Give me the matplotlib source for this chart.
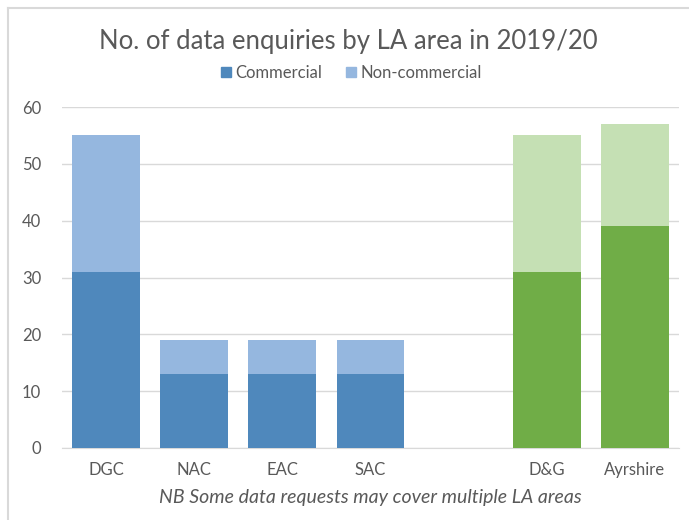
import numpy as np
import matplotlib
matplotlib.use('Agg')
import matplotlib.pyplot as plt
from matplotlib.patches import Patch
from matplotlib.lines import Line2D

categories = ["DGC", "NAC", "EAC", "SAC", "", "D&G", "Ayrshire"]
commercial = [31, 13, 13, 13, 0, 31, 39]
non_commercial = [24, 6, 6, 6, 0, 24, 18]
is_green = [False, False, False, False, False, True, True]

BLUE_DARK = "#4F88BC"
BLUE_LIGHT = "#95B7DF"
GREEN_DARK = "#70AD47"
GREEN_LIGHT = "#C5E0B4"

plt.rcParams['font.family'] = ['Lato', 'DejaVu Sans']

fig = plt.figure(figsize=(6.89, 5.20), dpi=100)
ax = fig.add_axes([62 / 689, 1 - 448 / 520, (679 - 62) / 689, (448 - 107) / 520])

x = np.arange(len(categories))
c_dark = [GREEN_DARK if g else BLUE_DARK for g in is_green]
c_light = [GREEN_LIGHT if g else BLUE_LIGHT for g in is_green]
ax.bar(x, commercial, 0.77, color=c_dark, zorder=3)
ax.bar(x, non_commercial, 0.77, bottom=commercial, color=c_light, zorder=3)

ax.set_xlim(-0.5, len(categories) - 0.5)
ax.set_ylim(0, 60)
ax.set_yticks(range(0, 61, 10))
ax.set_xticks(x)
ax.set_xticklabels(categories)
ax.grid(axis='y', color='#D9D9D9', linewidth=1, zorder=0)
for s in ["top", "right", "left"]:
    ax.spines[s].set_visible(False)
ax.spines["bottom"].set_color('#D9D9D9')
ax.tick_params(axis='both', length=0, labelsize=12, colors='#595959')
ax.tick_params(axis='y', pad=15)
ax.tick_params(axis='x', pad=10)

fig.text(0.505, 1 - 42 / 520, "No. of data enquiries by LA area in 2019/20",
         ha='center', va='center', fontsize=18.5, color='#595959')
handles = [Patch(color=BLUE_DARK, label="Commercial"),
           Patch(color=BLUE_LIGHT, label="Non-commercial")]
fig.legend(handles=handles, loc='center', bbox_to_anchor=(0.51, 1 - 73 / 520),
           ncol=2, frameon=False, fontsize=12, handlelength=0.6, handleheight=0.6,
           handletextpad=0.3, columnspacing=1.4, labelcolor='#595959')
fig.text(0.538, 1 - 497 / 520, "NB Some data requests may cover multiple LA areas",
         ha='center', va='center', fontsize=14, style='italic', color='#595959')

# chart frame
fig.add_artist(Line2D([8 / 689, 8 / 689], [0, 1 - 8 / 520], color='#D9D9D9', lw=1.5))
fig.add_artist(Line2D([8 / 689, 1], [1 - 8 / 520, 1 - 8 / 520], color='#D9D9D9', lw=1.5))

fig.savefig("out.png", dpi=100)
